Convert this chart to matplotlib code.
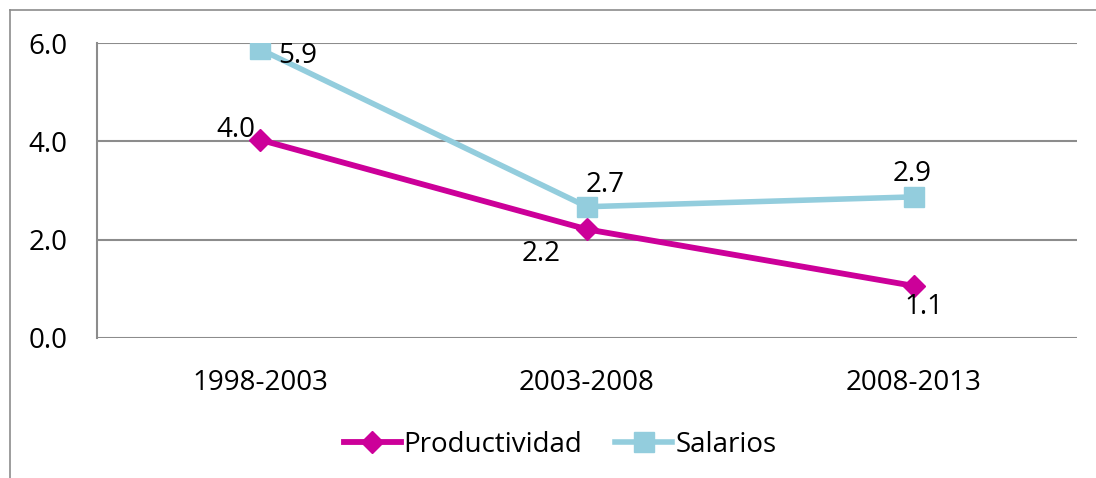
import matplotlib
matplotlib.use("Agg")
import matplotlib.pyplot as plt
from matplotlib.lines import Line2D

plt.rcParams['font.family'] = ['Open Sans', 'DejaVu Sans']

categories = ["1998-2003", "2003-2008", "2008-2013"]
productividad = [4.03, 2.21, 1.06]
salarios = [5.87, 2.67, 2.87]
yticks = [0.0, 2.0, 4.0, 6.0]

c_prod = "#CC0099"
c_sal = "#93CDDD"
grid_c = "#8C8C8C"

fig = plt.figure(figsize=(10.96, 4.78), dpi=100)
ax = fig.add_axes([97/1096, 1-338/478, (1077-97)/1096, (338-43)/478])

x = list(range(len(categories)))
ax.plot(x, productividad, color=c_prod, lw=4.2, marker='D', markersize=11,
        label="Productividad", zorder=3)
ax.plot(x, salarios, color=c_sal, lw=4.0, marker='s', markersize=14,
        label="Salarios", zorder=3)

fs = 20
# data labels
prod_off = [(-5, 10, 'right', 'center'), (-46, -25, 'center', 'center'), (10, -21, 'center', 'center')]
sal_off = [(18, -7, 'left', 'center'), (18, 22, 'center', 'center'), (-2, 23, 'center', 'center')]
for i, v in enumerate(productividad):
    dx, dy, ha, va = prod_off[i]
    ax.annotate(f"{v:.1f}", (x[i], v), xytext=(dx, dy), textcoords='offset pixels',
                ha=ha, va=va, fontsize=fs, color='black', zorder=4)
for i, v in enumerate(salarios):
    dx, dy, ha, va = sal_off[i]
    ax.annotate(f"{v:.1f}", (x[i], v), xytext=(dx, dy), textcoords='offset pixels',
                ha=ha, va=va, fontsize=fs, color='black', zorder=4)

ax.set_xlim(-0.5, 2.5)
ax.set_ylim(0, 6)
ax.set_yticks(yticks)
ax.set_yticklabels([f"{t:.1f}" for t in yticks])
ax.set_xticks(x)
ax.set_xticklabels(categories)
ax.tick_params(axis='y', length=0, pad=21, labelsize=fs)
ax.tick_params(axis='x', length=0, pad=22, labelsize=fs)
ax.grid(axis='y', color=grid_c, lw=1.5)
ax.set_axisbelow(True)
for s in ['top', 'right', 'bottom']:
    ax.spines[s].set_visible(False)
ax.spines['left'].set_color(grid_c)
ax.spines['left'].set_linewidth(1.5)

leg = fig.legend(loc='center', bbox_to_anchor=(560/1096, 1-445/478), ncol=2,
                 frameon=False, fontsize=fs, handlelength=2.05, handletextpad=0.1,
                 columnspacing=1.2)

# outer chart border
fig.add_artist(Line2D([10/1096, 10/1096], [0, 1-10/478], color="#8C8C8C", lw=1.2,
                      transform=fig.transFigure))
fig.add_artist(Line2D([10/1096, 1], [1-10/478, 1-10/478], color="#8C8C8C", lw=1.2,
                      transform=fig.transFigure))

fig.savefig("out.png", dpi=100)
